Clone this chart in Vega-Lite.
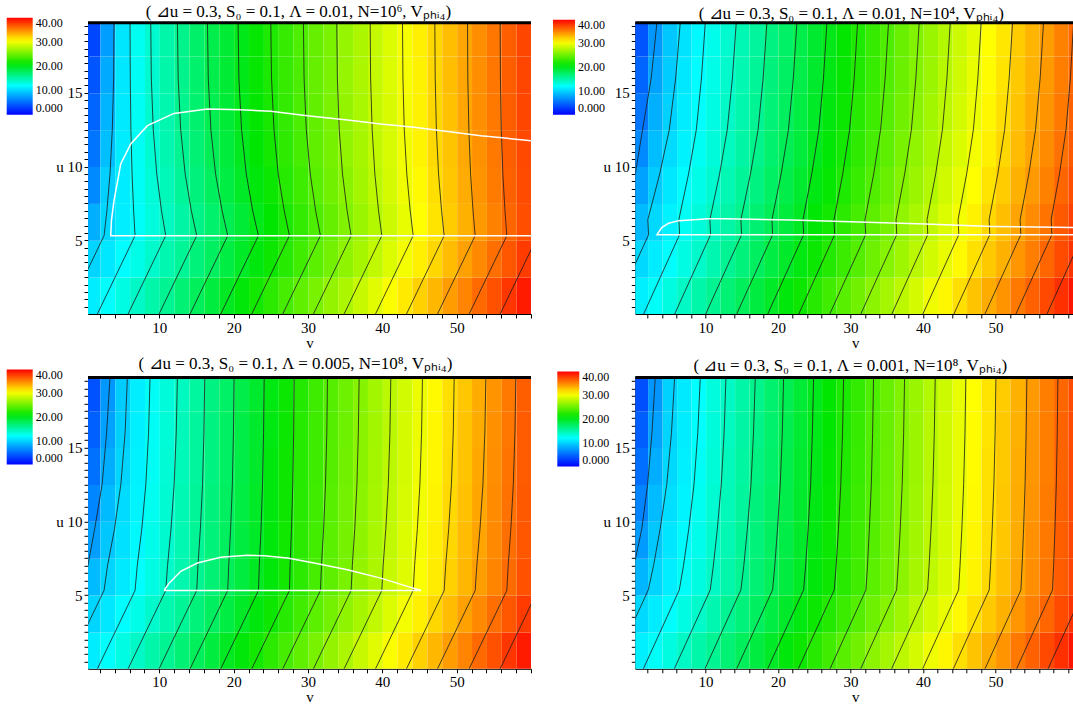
{
"$schema":"https://vega.github.io/schema/vega-lite/v6.json",
"padding":{"left":6,"top":3,"right":0,"bottom":0},
"config":{"view":{"stroke":null},"font":"Liberation Serif",
"axis":{"labelFont":"Liberation Serif","labelFontSize":15,"titleFont":"Liberation Serif","titleFontSize":15,"titleFontWeight":"normal","domainColor":"black","tickColor":"black","labelColor":"black","titleColor":"black","grid":false,"labelOverlap":false,"labelBound":false,"labelFlush":false},
"title":{"font":"Liberation Serif","fontSize":17,"fontWeight":"normal","offset":0,"dy":7.7,"anchor":"middle","color":"black"},
"legend":{"labelFont":"Liberation Serif","labelFontSize":12,"labelColor":"black"}},
"datasets":{
"aCells":[
{"v":0,"u":0,"r":11.1},{"v":2,"u":0,"r":12.1},{"v":4,"u":0,"r":13.0},{"v":6,"u":0,"r":14.0},{"v":8,"u":0,"r":15.0},{"v":10,"u":0,"r":15.9},{"v":12,"u":0,"r":16.9},{"v":14,"u":0,"r":17.8},{"v":16,"u":0,"r":18.8},{"v":18,"u":0,"r":19.8},{"v":20,"u":0,"r":20.7},{"v":22,"u":0,"r":21.7},{"v":24,"u":0,"r":22.6},{"v":26,"u":0,"r":23.6},{"v":28,"u":0,"r":24.6},{"v":30,"u":0,"r":25.5},{"v":32,"u":0,"r":26.5},{"v":34,"u":0,"r":27.4},{"v":36,"u":0,"r":28.4},{"v":38,"u":0,"r":29.4},{"v":40,"u":0,"r":30.3},{"v":42,"u":0,"r":31.3},{"v":44,"u":0,"r":32.2},{"v":46,"u":0,"r":33.2},{"v":48,"u":0,"r":34.2},{"v":50,"u":0,"r":35.1},{"v":52,"u":0,"r":36.1},{"v":54,"u":0,"r":37.0},{"v":56,"u":0,"r":38.0},{"v":58,"u":0,"r":39.0},
{"v":0,"u":2.5,"r":10.0},{"v":2,"u":2.5,"r":10.9},{"v":4,"u":2.5,"r":11.9},{"v":6,"u":2.5,"r":12.8},{"v":8,"u":2.5,"r":13.8},{"v":10,"u":2.5,"r":14.8},{"v":12,"u":2.5,"r":15.7},{"v":14,"u":2.5,"r":16.7},{"v":16,"u":2.5,"r":17.6},{"v":18,"u":2.5,"r":18.6},{"v":20,"u":2.5,"r":19.6},{"v":22,"u":2.5,"r":20.5},{"v":24,"u":2.5,"r":21.5},{"v":26,"u":2.5,"r":22.4},{"v":28,"u":2.5,"r":23.4},{"v":30,"u":2.5,"r":24.4},{"v":32,"u":2.5,"r":25.3},{"v":34,"u":2.5,"r":26.3},{"v":36,"u":2.5,"r":27.2},{"v":38,"u":2.5,"r":28.2},{"v":40,"u":2.5,"r":29.2},{"v":42,"u":2.5,"r":30.1},{"v":44,"u":2.5,"r":31.1},{"v":46,"u":2.5,"r":32.0},{"v":48,"u":2.5,"r":33.0},{"v":50,"u":2.5,"r":34.0},{"v":52,"u":2.5,"r":34.9},{"v":54,"u":2.5,"r":35.9},{"v":56,"u":2.5,"r":36.8},{"v":58,"u":2.5,"r":37.8},
{"v":0,"u":5,"r":8.3},{"v":2,"u":5,"r":10.1},{"v":4,"u":5,"r":11.2},{"v":6,"u":5,"r":12.2},{"v":8,"u":5,"r":13.2},{"v":10,"u":5,"r":14.2},{"v":12,"u":5,"r":15.2},{"v":14,"u":5,"r":16.2},{"v":16,"u":5,"r":17.2},{"v":18,"u":5,"r":18.1},{"v":20,"u":5,"r":19.1},{"v":22,"u":5,"r":20.1},{"v":24,"u":5,"r":21.0},{"v":26,"u":5,"r":22.0},{"v":28,"u":5,"r":22.9},{"v":30,"u":5,"r":23.9},{"v":32,"u":5,"r":24.8},{"v":34,"u":5,"r":25.8},{"v":36,"u":5,"r":26.7},{"v":38,"u":5,"r":27.7},{"v":40,"u":5,"r":28.6},{"v":42,"u":5,"r":29.6},{"v":44,"u":5,"r":30.5},{"v":46,"u":5,"r":31.5},{"v":48,"u":5,"r":32.4},{"v":50,"u":5,"r":33.4},{"v":52,"u":5,"r":34.3},{"v":54,"u":5,"r":35.2},{"v":56,"u":5,"r":36.2},{"v":58,"u":5,"r":37.1},
{"v":0,"u":7.5,"r":6.5},{"v":2,"u":7.5,"r":9.8},{"v":4,"u":7.5,"r":11.1},{"v":6,"u":7.5,"r":12.3},{"v":8,"u":7.5,"r":13.4},{"v":10,"u":7.5,"r":14.5},{"v":12,"u":7.5,"r":15.6},{"v":14,"u":7.5,"r":16.6},{"v":16,"u":7.5,"r":17.7},{"v":18,"u":7.5,"r":18.6},{"v":20,"u":7.5,"r":19.6},{"v":22,"u":7.5,"r":20.6},{"v":24,"u":7.5,"r":21.4},{"v":26,"u":7.5,"r":22.4},{"v":28,"u":7.5,"r":23.3},{"v":30,"u":7.5,"r":24.3},{"v":32,"u":7.5,"r":25.2},{"v":34,"u":7.5,"r":26.1},{"v":36,"u":7.5,"r":27.0},{"v":38,"u":7.5,"r":28.0},{"v":40,"u":7.5,"r":28.9},{"v":42,"u":7.5,"r":29.9},{"v":44,"u":7.5,"r":30.7},{"v":46,"u":7.5,"r":31.7},{"v":48,"u":7.5,"r":32.6},{"v":50,"u":7.5,"r":33.6},{"v":52,"u":7.5,"r":34.5},{"v":54,"u":7.5,"r":35.4},{"v":56,"u":7.5,"r":36.4},{"v":58,"u":7.5,"r":37.2},
{"v":0,"u":10,"r":5.5},{"v":2,"u":10,"r":9.0},{"v":4,"u":10,"r":11.1},{"v":6,"u":10,"r":12.4},{"v":8,"u":10,"r":13.6},{"v":10,"u":10,"r":14.8},{"v":12,"u":10,"r":15.9},{"v":14,"u":10,"r":16.9},{"v":16,"u":10,"r":18.0},{"v":18,"u":10,"r":18.9},{"v":20,"u":10,"r":19.9},{"v":22,"u":10,"r":20.9},{"v":24,"u":10,"r":21.8},{"v":26,"u":10,"r":22.7},{"v":28,"u":10,"r":23.6},{"v":30,"u":10,"r":24.6},{"v":32,"u":10,"r":25.4},{"v":34,"u":10,"r":26.4},{"v":36,"u":10,"r":27.2},{"v":38,"u":10,"r":28.2},{"v":40,"u":10,"r":29.0},{"v":42,"u":10,"r":30.0},{"v":44,"u":10,"r":30.9},{"v":46,"u":10,"r":31.9},{"v":48,"u":10,"r":32.7},{"v":50,"u":10,"r":33.7},{"v":52,"u":10,"r":34.6},{"v":54,"u":10,"r":35.5},{"v":56,"u":10,"r":36.5},{"v":58,"u":10,"r":37.3},
{"v":0,"u":12.5,"r":4.7},{"v":2,"u":12.5,"r":8.5},{"v":4,"u":12.5,"r":11.0},{"v":6,"u":12.5,"r":12.4},{"v":8,"u":12.5,"r":13.7},{"v":10,"u":12.5,"r":14.9},{"v":12,"u":12.5,"r":16.0},{"v":14,"u":12.5,"r":17.1},{"v":16,"u":12.5,"r":18.2},{"v":18,"u":12.5,"r":19.1},{"v":20,"u":12.5,"r":20.1},{"v":22,"u":12.5,"r":21.1},{"v":24,"u":12.5,"r":21.9},{"v":26,"u":12.5,"r":22.9},{"v":28,"u":12.5,"r":23.8},{"v":30,"u":12.5,"r":24.7},{"v":32,"u":12.5,"r":25.6},{"v":34,"u":12.5,"r":26.5},{"v":36,"u":12.5,"r":27.3},{"v":38,"u":12.5,"r":28.3},{"v":40,"u":12.5,"r":29.1},{"v":42,"u":12.5,"r":30.1},{"v":44,"u":12.5,"r":31.0},{"v":46,"u":12.5,"r":32.0},{"v":48,"u":12.5,"r":32.8},{"v":50,"u":12.5,"r":33.8},{"v":52,"u":12.5,"r":34.7},{"v":54,"u":12.5,"r":35.5},{"v":56,"u":12.5,"r":36.5},{"v":58,"u":12.5,"r":37.4},
{"v":0,"u":15,"r":4.0},{"v":2,"u":15,"r":8.0},{"v":4,"u":15,"r":10.9},{"v":6,"u":15,"r":12.4},{"v":8,"u":15,"r":13.7},{"v":10,"u":15,"r":15.0},{"v":12,"u":15,"r":16.1},{"v":14,"u":15,"r":17.2},{"v":16,"u":15,"r":18.3},{"v":18,"u":15,"r":19.2},{"v":20,"u":15,"r":20.2},{"v":22,"u":15,"r":21.2},{"v":24,"u":15,"r":22.0},{"v":26,"u":15,"r":23.0},{"v":28,"u":15,"r":23.8},{"v":30,"u":15,"r":24.8},{"v":32,"u":15,"r":25.6},{"v":34,"u":15,"r":26.6},{"v":36,"u":15,"r":27.4},{"v":38,"u":15,"r":28.3},{"v":40,"u":15,"r":29.2},{"v":42,"u":15,"r":30.2},{"v":44,"u":15,"r":31.0},{"v":46,"u":15,"r":32.0},{"v":48,"u":15,"r":32.9},{"v":50,"u":15,"r":33.8},{"v":52,"u":15,"r":34.7},{"v":54,"u":15,"r":35.6},{"v":56,"u":15,"r":36.5},{"v":58,"u":15,"r":37.4},
{"v":0,"u":17.5,"r":3.3},{"v":2,"u":17.5,"r":7.5},{"v":4,"u":17.5,"r":10.8},{"v":6,"u":17.5,"r":12.5},{"v":8,"u":17.5,"r":13.7},{"v":10,"u":17.5,"r":15.0},{"v":12,"u":17.5,"r":16.1},{"v":14,"u":17.5,"r":17.3},{"v":16,"u":17.5,"r":18.3},{"v":18,"u":17.5,"r":19.2},{"v":20,"u":17.5,"r":20.2},{"v":22,"u":17.5,"r":21.2},{"v":24,"u":17.5,"r":22.1},{"v":26,"u":17.5,"r":23.0},{"v":28,"u":17.5,"r":23.9},{"v":30,"u":17.5,"r":24.8},{"v":32,"u":17.5,"r":25.6},{"v":34,"u":17.5,"r":26.6},{"v":36,"u":17.5,"r":27.4},{"v":38,"u":17.5,"r":28.3},{"v":40,"u":17.5,"r":29.2},{"v":42,"u":17.5,"r":30.2},{"v":44,"u":17.5,"r":31.1},{"v":46,"u":17.5,"r":32.0},{"v":48,"u":17.5,"r":32.9},{"v":50,"u":17.5,"r":33.8},{"v":52,"u":17.5,"r":34.7},{"v":54,"u":17.5,"r":35.6},{"v":56,"u":17.5,"r":36.5},{"v":58,"u":17.5,"r":37.4}
],
"aLines":[
{"k":0,"u":0,"v":-2.51},{"k":0,"u":5.31,"v":2.56},{"k":0,"u":7,"v":2.94},{"k":0,"u":9.5,"v":3.36},{"k":0,"u":12.5,"v":3.67},{"k":0,"u":16,"v":3.85},{"k":0,"u":19.8,"v":3.9},
{"k":1,"u":0,"v":1.66},{"k":1,"u":5.31,"v":6.73},{"k":1,"u":7,"v":6.54},{"k":1,"u":9.5,"v":6.33},{"k":1,"u":12.5,"v":6.17},{"k":1,"u":16,"v":6.09},{"k":1,"u":19.8,"v":6.06},
{"k":2,"u":0,"v":5.79},{"k":2,"u":5.31,"v":10.86},{"k":2,"u":7,"v":10.29},{"k":2,"u":9.5,"v":9.65},{"k":2,"u":12.5,"v":9.18},{"k":2,"u":16,"v":8.92},{"k":2,"u":19.8,"v":8.84},
{"k":3,"u":0,"v":9.96},{"k":3,"u":5.31,"v":15.03},{"k":3,"u":7,"v":14.3},{"k":3,"u":9.5,"v":13.47},{"k":3,"u":12.5,"v":12.87},{"k":3,"u":16,"v":12.53},{"k":3,"u":19.8,"v":12.43},
{"k":4,"u":0,"v":14.13},{"k":4,"u":5.31,"v":19.2},{"k":4,"u":7,"v":18.44},{"k":4,"u":9.5,"v":17.56},{"k":4,"u":12.5,"v":16.93},{"k":4,"u":16,"v":16.58},{"k":4,"u":19.8,"v":16.47},
{"k":5,"u":0,"v":18.26},{"k":5,"u":5.31,"v":23.33},{"k":5,"u":7,"v":22.56},{"k":5,"u":9.5,"v":21.69},{"k":5,"u":12.5,"v":21.06},{"k":5,"u":16,"v":20.7},{"k":5,"u":19.8,"v":20.59},
{"k":6,"u":0,"v":22.43},{"k":6,"u":5.31,"v":27.5},{"k":6,"u":7,"v":26.8},{"k":6,"u":9.5,"v":25.99},{"k":6,"u":12.5,"v":25.42},{"k":6,"u":16,"v":25.09},{"k":6,"u":19.8,"v":24.99},
{"k":7,"u":0,"v":26.6},{"k":7,"u":5.31,"v":31.67},{"k":7,"u":7,"v":31.03},{"k":7,"u":9.5,"v":30.3},{"k":7,"u":12.5,"v":29.77},{"k":7,"u":16,"v":29.47},{"k":7,"u":19.8,"v":29.38},
{"k":8,"u":0,"v":30.73},{"k":8,"u":5.31,"v":35.8},{"k":8,"u":7,"v":35.26},{"k":8,"u":9.5,"v":34.64},{"k":8,"u":12.5,"v":34.2},{"k":8,"u":16,"v":33.95},{"k":8,"u":19.8,"v":33.87},
{"k":9,"u":0,"v":34.86},{"k":9,"u":5.31,"v":39.93},{"k":9,"u":7,"v":39.49},{"k":9,"u":9.5,"v":38.99},{"k":9,"u":12.5,"v":38.63},{"k":9,"u":16,"v":38.42},{"k":9,"u":19.8,"v":38.36},
{"k":10,"u":0,"v":39.08},{"k":10,"u":5.31,"v":44.15},{"k":10,"u":7,"v":43.75},{"k":10,"u":9.5,"v":43.29},{"k":10,"u":12.5,"v":42.95},{"k":10,"u":16,"v":42.77},{"k":10,"u":19.8,"v":42.71},
{"k":11,"u":0,"v":43.25},{"k":11,"u":5.31,"v":48.32},{"k":11,"u":7,"v":47.97},{"k":11,"u":9.5,"v":47.56},{"k":11,"u":12.5,"v":47.27},{"k":11,"u":16,"v":47.11},{"k":11,"u":19.8,"v":47.06},
{"k":12,"u":0,"v":47.42},{"k":12,"u":5.31,"v":52.49},{"k":12,"u":7,"v":52.2},{"k":12,"u":9.5,"v":51.87},{"k":12,"u":12.5,"v":51.64},{"k":12,"u":16,"v":51.5},{"k":12,"u":19.8,"v":51.46},
{"k":13,"u":0,"v":51.68},{"k":13,"u":5.31,"v":56.75},{"k":13,"u":7,"v":56.5},{"k":13,"u":9.5,"v":56.21},{"k":13,"u":12.5,"v":56.0},{"k":13,"u":16,"v":55.89},{"k":13,"u":19.8,"v":55.85},
{"k":14,"u":0,"v":55.85},{"k":14,"u":5.31,"v":60.92},{"k":14,"u":7,"v":60.68},{"k":14,"u":9.5,"v":60.41},{"k":14,"u":12.5,"v":60.21},{"k":14,"u":16,"v":60.1},{"k":14,"u":19.8,"v":60.07}
],
"aWhite":[
{"o":0,"v":60,"u":5.31},{"o":1,"v":3.46,"u":5.31},{"o":2,"v":3.55,"u":6.33},{"o":3,"v":3.9,"u":7.68},{"o":4,"v":4.8,"u":10.17},{"o":5,"v":6.15,"u":11.53},{"o":6,"v":8.39,"u":12.77},{"o":7,"v":11.98,"u":13.6},{"o":8,"v":16.47,"u":13.9},{"o":9,"v":20.95,"u":13.85},{"o":10,"v":24.99,"u":13.74},{"o":11,"v":29.92,"u":13.45},{"o":12,"v":35.3,"u":13.15},{"o":13,"v":39.79,"u":12.88},{"o":14,"v":44.28,"u":12.66},{"o":15,"v":48.77,"u":12.38},{"o":16,"v":53.25,"u":12.09},{"o":17,"v":60.07,"u":11.75}
],
"bCells":[
{"v":0,"u":0,"r":11.3},{"v":2,"u":0,"r":12.2},{"v":4,"u":0,"r":13.1},{"v":6,"u":0,"r":14.1},{"v":8,"u":0,"r":15.0},{"v":10,"u":0,"r":15.9},{"v":12,"u":0,"r":16.9},{"v":14,"u":0,"r":17.8},{"v":16,"u":0,"r":18.7},{"v":18,"u":0,"r":19.6},{"v":20,"u":0,"r":20.6},{"v":22,"u":0,"r":21.5},{"v":24,"u":0,"r":22.4},{"v":26,"u":0,"r":23.4},{"v":28,"u":0,"r":24.3},{"v":30,"u":0,"r":25.2},{"v":32,"u":0,"r":26.2},{"v":34,"u":0,"r":27.1},{"v":36,"u":0,"r":28.0},{"v":38,"u":0,"r":28.9},{"v":40,"u":0,"r":29.9},{"v":42,"u":0,"r":30.8},{"v":44,"u":0,"r":31.7},{"v":46,"u":0,"r":32.7},{"v":48,"u":0,"r":33.6},{"v":50,"u":0,"r":34.5},{"v":52,"u":0,"r":35.5},{"v":54,"u":0,"r":36.4},{"v":56,"u":0,"r":37.3},{"v":58,"u":0,"r":38.2},{"v":60,"u":0,"r":39.2},
{"v":0,"u":2.5,"r":10.2},{"v":2,"u":2.5,"r":11.1},{"v":4,"u":2.5,"r":12.1},{"v":6,"u":2.5,"r":13.0},{"v":8,"u":2.5,"r":13.9},{"v":10,"u":2.5,"r":14.8},{"v":12,"u":2.5,"r":15.8},{"v":14,"u":2.5,"r":16.7},{"v":16,"u":2.5,"r":17.6},{"v":18,"u":2.5,"r":18.6},{"v":20,"u":2.5,"r":19.5},{"v":22,"u":2.5,"r":20.4},{"v":24,"u":2.5,"r":21.4},{"v":26,"u":2.5,"r":22.3},{"v":28,"u":2.5,"r":23.2},{"v":30,"u":2.5,"r":24.1},{"v":32,"u":2.5,"r":25.1},{"v":34,"u":2.5,"r":26.0},{"v":36,"u":2.5,"r":26.9},{"v":38,"u":2.5,"r":27.9},{"v":40,"u":2.5,"r":28.8},{"v":42,"u":2.5,"r":29.7},{"v":44,"u":2.5,"r":30.7},{"v":46,"u":2.5,"r":31.6},{"v":48,"u":2.5,"r":32.5},{"v":50,"u":2.5,"r":33.4},{"v":52,"u":2.5,"r":34.4},{"v":54,"u":2.5,"r":35.3},{"v":56,"u":2.5,"r":36.2},{"v":58,"u":2.5,"r":37.2},{"v":60,"u":2.5,"r":38.1},
{"v":0,"u":5,"r":8.8},{"v":2,"u":5,"r":10.2},{"v":4,"u":5,"r":11.4},{"v":6,"u":5,"r":12.4},{"v":8,"u":5,"r":13.3},{"v":10,"u":5,"r":14.2},{"v":12,"u":5,"r":15.2},{"v":14,"u":5,"r":16.1},{"v":16,"u":5,"r":17.0},{"v":18,"u":5,"r":18.0},{"v":20,"u":5,"r":18.9},{"v":22,"u":5,"r":19.8},{"v":24,"u":5,"r":20.8},{"v":26,"u":5,"r":21.7},{"v":28,"u":5,"r":22.6},{"v":30,"u":5,"r":23.6},{"v":32,"u":5,"r":24.5},{"v":34,"u":5,"r":25.4},{"v":36,"u":5,"r":26.4},{"v":38,"u":5,"r":27.3},{"v":40,"u":5,"r":28.2},{"v":42,"u":5,"r":29.2},{"v":44,"u":5,"r":30.1},{"v":46,"u":5,"r":31.0},{"v":48,"u":5,"r":32.0},{"v":50,"u":5,"r":32.9},{"v":52,"u":5,"r":33.9},{"v":54,"u":5,"r":34.8},{"v":56,"u":5,"r":35.7},{"v":58,"u":5,"r":36.7},{"v":60,"u":5,"r":37.6},
{"v":0,"u":7.5,"r":7.6},{"v":2,"u":7.5,"r":9.6},{"v":4,"u":7.5,"r":10.9},{"v":6,"u":7.5,"r":11.9},{"v":8,"u":7.5,"r":12.8},{"v":10,"u":7.5,"r":13.7},{"v":12,"u":7.5,"r":14.7},{"v":14,"u":7.5,"r":15.6},{"v":16,"u":7.5,"r":16.5},{"v":18,"u":7.5,"r":17.5},{"v":20,"u":7.5,"r":18.4},{"v":22,"u":7.5,"r":19.3},{"v":24,"u":7.5,"r":20.3},{"v":26,"u":7.5,"r":21.2},{"v":28,"u":7.5,"r":22.1},{"v":30,"u":7.5,"r":23.1},{"v":32,"u":7.5,"r":24.0},{"v":34,"u":7.5,"r":24.9},{"v":36,"u":7.5,"r":25.9},{"v":38,"u":7.5,"r":26.8},{"v":40,"u":7.5,"r":27.7},{"v":42,"u":7.5,"r":28.7},{"v":44,"u":7.5,"r":29.6},{"v":46,"u":7.5,"r":30.5},{"v":48,"u":7.5,"r":31.5},{"v":50,"u":7.5,"r":32.4},{"v":52,"u":7.5,"r":33.4},{"v":54,"u":7.5,"r":34.3},{"v":56,"u":7.5,"r":35.2},{"v":58,"u":7.5,"r":36.2},{"v":60,"u":7.5,"r":37.1},
{"v":0,"u":10,"r":6.5},{"v":2,"u":10,"r":8.9},{"v":4,"u":10,"r":10.3},{"v":6,"u":10,"r":11.4},{"v":8,"u":10,"r":12.4},{"v":10,"u":10,"r":13.3},{"v":12,"u":10,"r":14.3},{"v":14,"u":10,"r":15.2},{"v":16,"u":10,"r":16.1},{"v":18,"u":10,"r":17.1},{"v":20,"u":10,"r":18.0},{"v":22,"u":10,"r":18.9},{"v":24,"u":10,"r":19.9},{"v":26,"u":10,"r":20.8},{"v":28,"u":10,"r":21.7},{"v":30,"u":10,"r":22.7},{"v":32,"u":10,"r":23.6},{"v":34,"u":10,"r":24.5},{"v":36,"u":10,"r":25.5},{"v":38,"u":10,"r":26.4},{"v":40,"u":10,"r":27.3},{"v":42,"u":10,"r":28.3},{"v":44,"u":10,"r":29.2},{"v":46,"u":10,"r":30.1},{"v":48,"u":10,"r":31.1},{"v":50,"u":10,"r":32.0},{"v":52,"u":10,"r":33.0},{"v":54,"u":10,"r":33.9},{"v":56,"u":10,"r":34.8},{"v":58,"u":10,"r":35.8},{"v":60,"u":10,"r":36.7},
{"v":0,"u":12.5,"r":5.5},{"v":2,"u":12.5,"r":8.3},{"v":4,"u":12.5,"r":9.9},{"v":6,"u":12.5,"r":11.1},{"v":8,"u":12.5,"r":12.1},{"v":10,"u":12.5,"r":13.0},{"v":12,"u":12.5,"r":14.0},{"v":14,"u":12.5,"r":14.9},{"v":16,"u":12.5,"r":15.8},{"v":18,"u":12.5,"r":16.8},{"v":20,"u":12.5,"r":17.7},{"v":22,"u":12.5,"r":18.6},{"v":24,"u":12.5,"r":19.6},{"v":26,"u":12.5,"r":20.5},{"v":28,"u":12.5,"r":21.4},{"v":30,"u":12.5,"r":22.4},{"v":32,"u":12.5,"r":23.3},{"v":34,"u":12.5,"r":24.2},{"v":36,"u":12.5,"r":25.2},{"v":38,"u":12.5,"r":26.1},{"v":40,"u":12.5,"r":27.0},{"v":42,"u":12.5,"r":28.0},{"v":44,"u":12.5,"r":28.9},{"v":46,"u":12.5,"r":29.8},{"v":48,"u":12.5,"r":30.8},{"v":50,"u":12.5,"r":31.7},{"v":52,"u":12.5,"r":32.7},{"v":54,"u":12.5,"r":33.6},{"v":56,"u":12.5,"r":34.5},{"v":58,"u":12.5,"r":35.5},{"v":60,"u":12.5,"r":36.4},
{"v":0,"u":15,"r":4.7},{"v":2,"u":15,"r":7.7},{"v":4,"u":15,"r":9.6},{"v":6,"u":15,"r":10.9},{"v":8,"u":15,"r":11.9},{"v":10,"u":15,"r":12.8},{"v":12,"u":15,"r":13.8},{"v":14,"u":15,"r":14.7},{"v":16,"u":15,"r":15.6},{"v":18,"u":15,"r":16.6},{"v":20,"u":15,"r":17.5},{"v":22,"u":15,"r":18.4},{"v":24,"u":15,"r":19.4},{"v":26,"u":15,"r":20.3},{"v":28,"u":15,"r":21.2},{"v":30,"u":15,"r":22.2},{"v":32,"u":15,"r":23.1},{"v":34,"u":15,"r":24.0},{"v":36,"u":15,"r":25.0},{"v":38,"u":15,"r":25.9},{"v":40,"u":15,"r":26.8},{"v":42,"u":15,"r":27.8},{"v":44,"u":15,"r":28.7},{"v":46,"u":15,"r":29.6},{"v":48,"u":15,"r":30.6},{"v":50,"u":15,"r":31.5},{"v":52,"u":15,"r":32.5},{"v":54,"u":15,"r":33.4},{"v":56,"u":15,"r":34.3},{"v":58,"u":15,"r":35.3},{"v":60,"u":15,"r":36.2},
{"v":0,"u":17.5,"r":4.0},{"v":2,"u":17.5,"r":7.1},{"v":4,"u":17.5,"r":9.4},{"v":6,"u":17.5,"r":10.7},{"v":8,"u":17.5,"r":11.7},{"v":10,"u":17.5,"r":12.7},{"v":12,"u":17.5,"r":13.7},{"v":14,"u":17.5,"r":14.6},{"v":16,"u":17.5,"r":15.5},{"v":18,"u":17.5,"r":16.5},{"v":20,"u":17.5,"r":17.4},{"v":22,"u":17.5,"r":18.3},{"v":24,"u":17.5,"r":19.3},{"v":26,"u":17.5,"r":20.2},{"v":28,"u":17.5,"r":21.1},{"v":30,"u":17.5,"r":22.1},{"v":32,"u":17.5,"r":23.0},{"v":34,"u":17.5,"r":23.9},{"v":36,"u":17.5,"r":24.9},{"v":38,"u":17.5,"r":25.8},{"v":40,"u":17.5,"r":26.7},{"v":42,"u":17.5,"r":27.7},{"v":44,"u":17.5,"r":28.6},{"v":46,"u":17.5,"r":29.5},{"v":48,"u":17.5,"r":30.5},{"v":50,"u":17.5,"r":31.4},{"v":52,"u":17.5,"r":32.4},{"v":54,"u":17.5,"r":33.3},{"v":56,"u":17.5,"r":34.2},{"v":58,"u":17.5,"r":35.2},{"v":60,"u":17.5,"r":36.1}
],
"bLines":[
{"k":-1,"u":9.5,"v":0.3},{"k":-1,"u":12.5,"v":1.3},{"k":-1,"u":16,"v":2.5},{"k":-1,"u":19.8,"v":3.29},
{"k":0,"u":0,"v":-2.83},{"k":0,"u":5.38,"v":2.13},{"k":0,"u":6.4,"v":2.03},{"k":0,"u":9.5,"v":3.67},{"k":0,"u":12.5,"v":4.99},{"k":0,"u":16,"v":5.87},{"k":0,"u":19.8,"v":6.51},
{"k":1,"u":0,"v":1.45},{"k":1,"u":5.38,"v":6.41},{"k":1,"u":6.4,"v":6.31},{"k":1,"u":9.5,"v":7.65},{"k":1,"u":12.5,"v":8.72},{"k":1,"u":16,"v":9.43},{"k":1,"u":19.8,"v":9.96},
{"k":2,"u":0,"v":5.73},{"k":2,"u":5.38,"v":10.69},{"k":2,"u":6.4,"v":10.59},{"k":2,"u":9.5,"v":11.93},{"k":2,"u":12.5,"v":12.99},{"k":2,"u":16,"v":13.7},{"k":2,"u":19.8,"v":14.23},
{"k":3,"u":0,"v":10.01},{"k":3,"u":5.38,"v":14.97},{"k":3,"u":6.4,"v":14.87},{"k":3,"u":9.5,"v":16.19},{"k":3,"u":12.5,"v":17.24},{"k":3,"u":16,"v":17.94},{"k":3,"u":19.8,"v":18.46},
{"k":4,"u":0,"v":14.29},{"k":4,"u":5.38,"v":19.25},{"k":4,"u":6.4,"v":19.15},{"k":4,"u":9.5,"v":20.42},{"k":4,"u":12.5,"v":21.43},{"k":4,"u":16,"v":22.1},{"k":4,"u":19.8,"v":22.6},
{"k":5,"u":0,"v":18.57},{"k":5,"u":5.38,"v":23.53},{"k":5,"u":6.4,"v":23.43},{"k":5,"u":9.5,"v":24.65},{"k":5,"u":12.5,"v":25.62},{"k":5,"u":16,"v":26.26},{"k":5,"u":19.8,"v":26.74},
{"k":6,"u":0,"v":22.85},{"k":6,"u":5.38,"v":27.81},{"k":6,"u":6.4,"v":27.71},{"k":6,"u":9.5,"v":28.92},{"k":6,"u":12.5,"v":29.86},{"k":6,"u":16,"v":30.5},{"k":6,"u":19.8,"v":30.97},
{"k":7,"u":0,"v":27.13},{"k":7,"u":5.38,"v":32.09},{"k":7,"u":6.4,"v":31.99},{"k":7,"u":9.5,"v":33.19},{"k":7,"u":12.5,"v":34.14},{"k":7,"u":16,"v":34.77},{"k":7,"u":19.8,"v":35.24},
{"k":8,"u":0,"v":31.41},{"k":8,"u":5.38,"v":36.37},{"k":8,"u":6.4,"v":36.27},{"k":8,"u":9.5,"v":37.46},{"k":8,"u":12.5,"v":38.39},{"k":8,"u":16,"v":39.01},{"k":8,"u":19.8,"v":39.47},
{"k":9,"u":0,"v":35.69},{"k":9,"u":5.38,"v":40.65},{"k":9,"u":6.4,"v":40.55},{"k":9,"u":9.5,"v":41.74},{"k":9,"u":12.5,"v":42.67},{"k":9,"u":16,"v":43.29},{"k":9,"u":19.8,"v":43.75},
{"k":10,"u":0,"v":39.97},{"k":10,"u":5.38,"v":44.93},{"k":10,"u":6.4,"v":44.83},{"k":10,"u":9.5,"v":46.01},{"k":10,"u":12.5,"v":46.94},{"k":10,"u":16,"v":47.56},{"k":10,"u":19.8,"v":48.02},
{"k":11,"u":0,"v":44.25},{"k":11,"u":5.38,"v":49.21},{"k":11,"u":6.4,"v":49.11},{"k":11,"u":9.5,"v":50.31},{"k":11,"u":12.5,"v":51.25},{"k":11,"u":16,"v":51.88},{"k":11,"u":19.8,"v":52.35},
{"k":12,"u":0,"v":48.53},{"k":12,"u":5.38,"v":53.49},{"k":12,"u":6.4,"v":53.39},{"k":12,"u":9.5,"v":54.59},{"k":12,"u":12.5,"v":55.52},{"k":12,"u":16,"v":56.15},{"k":12,"u":19.8,"v":56.62},
{"k":13,"u":0,"v":52.81},{"k":13,"u":5.38,"v":57.77},{"k":13,"u":6.4,"v":57.67},{"k":13,"u":9.5,"v":58.82},{"k":13,"u":12.5,"v":59.72},{"k":13,"u":16,"v":60.32},{"k":13,"u":19.8,"v":60.77},
{"k":14,"u":0,"v":57.09},{"k":14,"u":5.38,"v":62.05}
],
"bWhite":[
{"o":0,"v":61,"u":5.38},{"o":1,"v":3.29,"u":5.38},{"o":2,"v":3.98,"u":5.88},{"o":3,"v":4.9,"u":6.15},{"o":4,"v":6.28,"u":6.33},{"o":5,"v":10.41,"u":6.46},{"o":6,"v":12.71,"u":6.46},{"o":7,"v":21.9,"u":6.37},{"o":8,"v":31.1,"u":6.24},{"o":9,"v":40.3,"u":6.1},{"o":10,"v":49.5,"u":5.94},{"o":11,"v":61,"u":5.86}
],
"cCells":[
{"v":0,"u":0,"r":11.1},{"v":2,"u":0,"r":12.1},{"v":4,"u":0,"r":13.0},{"v":6,"u":0,"r":14.0},{"v":8,"u":0,"r":15.0},{"v":10,"u":0,"r":15.9},{"v":12,"u":0,"r":16.9},{"v":14,"u":0,"r":17.8},{"v":16,"u":0,"r":18.8},{"v":18,"u":0,"r":19.8},{"v":20,"u":0,"r":20.7},{"v":22,"u":0,"r":21.7},{"v":24,"u":0,"r":22.6},{"v":26,"u":0,"r":23.6},{"v":28,"u":0,"r":24.6},{"v":30,"u":0,"r":25.5},{"v":32,"u":0,"r":26.5},{"v":34,"u":0,"r":27.4},{"v":36,"u":0,"r":28.4},{"v":38,"u":0,"r":29.4},{"v":40,"u":0,"r":30.3},{"v":42,"u":0,"r":31.3},{"v":44,"u":0,"r":32.2},{"v":46,"u":0,"r":33.2},{"v":48,"u":0,"r":34.2},{"v":50,"u":0,"r":35.1},{"v":52,"u":0,"r":36.1},{"v":54,"u":0,"r":37.0},{"v":56,"u":0,"r":38.0},{"v":58,"u":0,"r":39.0},
{"v":0,"u":2.5,"r":10.0},{"v":2,"u":2.5,"r":10.9},{"v":4,"u":2.5,"r":11.9},{"v":6,"u":2.5,"r":12.8},{"v":8,"u":2.5,"r":13.8},{"v":10,"u":2.5,"r":14.8},{"v":12,"u":2.5,"r":15.7},{"v":14,"u":2.5,"r":16.7},{"v":16,"u":2.5,"r":17.6},{"v":18,"u":2.5,"r":18.6},{"v":20,"u":2.5,"r":19.6},{"v":22,"u":2.5,"r":20.5},{"v":24,"u":2.5,"r":21.5},{"v":26,"u":2.5,"r":22.4},{"v":28,"u":2.5,"r":23.4},{"v":30,"u":2.5,"r":24.4},{"v":32,"u":2.5,"r":25.3},{"v":34,"u":2.5,"r":26.3},{"v":36,"u":2.5,"r":27.2},{"v":38,"u":2.5,"r":28.2},{"v":40,"u":2.5,"r":29.2},{"v":42,"u":2.5,"r":30.1},{"v":44,"u":2.5,"r":31.1},{"v":46,"u":2.5,"r":32.0},{"v":48,"u":2.5,"r":33.0},{"v":50,"u":2.5,"r":34.0},{"v":52,"u":2.5,"r":34.9},{"v":54,"u":2.5,"r":35.9},{"v":56,"u":2.5,"r":36.8},{"v":58,"u":2.5,"r":37.8},
{"v":0,"u":5,"r":8.8},{"v":2,"u":5,"r":10.0},{"v":4,"u":5,"r":11.0},{"v":6,"u":5,"r":12.0},{"v":8,"u":5,"r":13.0},{"v":10,"u":5,"r":13.9},{"v":12,"u":5,"r":14.9},{"v":14,"u":5,"r":15.9},{"v":16,"u":5,"r":16.9},{"v":18,"u":5,"r":17.8},{"v":20,"u":5,"r":18.8},{"v":22,"u":5,"r":19.8},{"v":24,"u":5,"r":20.7},{"v":26,"u":5,"r":21.7},{"v":28,"u":5,"r":22.6},{"v":30,"u":5,"r":23.6},{"v":32,"u":5,"r":24.5},{"v":34,"u":5,"r":25.5},{"v":36,"u":5,"r":26.5},{"v":38,"u":5,"r":27.4},{"v":40,"u":5,"r":28.4},{"v":42,"u":5,"r":29.3},{"v":44,"u":5,"r":30.3},{"v":46,"u":5,"r":31.2},{"v":48,"u":5,"r":32.2},{"v":50,"u":5,"r":33.2},{"v":52,"u":5,"r":34.1},{"v":54,"u":5,"r":35.1},{"v":56,"u":5,"r":36.0},{"v":58,"u":5,"r":37.0},
{"v":0,"u":7.5,"r":7.5},{"v":2,"u":7.5,"r":9.4},{"v":4,"u":7.5,"r":10.6},{"v":6,"u":7.5,"r":11.7},{"v":8,"u":7.5,"r":12.7},{"v":10,"u":7.5,"r":13.7},{"v":12,"u":7.5,"r":14.7},{"v":14,"u":7.5,"r":15.7},{"v":16,"u":7.5,"r":16.7},{"v":18,"u":7.5,"r":17.7},{"v":20,"u":7.5,"r":18.7},{"v":22,"u":7.5,"r":19.6},{"v":24,"u":7.5,"r":20.6},{"v":26,"u":7.5,"r":21.6},{"v":28,"u":7.5,"r":22.6},{"v":30,"u":7.5,"r":23.5},{"v":32,"u":7.5,"r":24.4},{"v":34,"u":7.5,"r":25.4},{"v":36,"u":7.5,"r":26.3},{"v":38,"u":7.5,"r":27.3},{"v":40,"u":7.5,"r":28.2},{"v":42,"u":7.5,"r":29.2},{"v":44,"u":7.5,"r":30.1},{"v":46,"u":7.5,"r":31.1},{"v":48,"u":7.5,"r":32.0},{"v":50,"u":7.5,"r":33.0},{"v":52,"u":7.5,"r":33.9},{"v":54,"u":7.5,"r":34.9},{"v":56,"u":7.5,"r":35.9},{"v":58,"u":7.5,"r":36.8},
{"v":0,"u":10,"r":6.3},{"v":2,"u":10,"r":8.8},{"v":4,"u":10,"r":10.3},{"v":6,"u":10,"r":11.5},{"v":8,"u":10,"r":12.5},{"v":10,"u":10,"r":13.6},{"v":12,"u":10,"r":14.6},{"v":14,"u":10,"r":15.6},{"v":16,"u":10,"r":16.6},{"v":18,"u":10,"r":17.6},{"v":20,"u":10,"r":18.6},{"v":22,"u":10,"r":19.6},{"v":24,"u":10,"r":20.5},{"v":26,"u":10,"r":21.5},{"v":28,"u":10,"r":22.5},{"v":30,"u":10,"r":23.4},{"v":32,"u":10,"r":24.3},{"v":34,"u":10,"r":25.3},{"v":36,"u":10,"r":26.2},{"v":38,"u":10,"r":27.2},{"v":40,"u":10,"r":28.1},{"v":42,"u":10,"r":29.0},{"v":44,"u":10,"r":30.0},{"v":46,"u":10,"r":30.9},{"v":48,"u":10,"r":31.9},{"v":50,"u":10,"r":32.8},{"v":52,"u":10,"r":33.8},{"v":54,"u":10,"r":34.8},{"v":56,"u":10,"r":35.8},{"v":58,"u":10,"r":36.7},
{"v":0,"u":12.5,"r":5.3},{"v":2,"u":12.5,"r":8.2},{"v":4,"u":12.5,"r":10.0},{"v":6,"u":12.5,"r":11.4},{"v":8,"u":12.5,"r":12.4},{"v":10,"u":12.5,"r":13.5},{"v":12,"u":12.5,"r":14.5},{"v":14,"u":12.5,"r":15.5},{"v":16,"u":12.5,"r":16.5},{"v":18,"u":12.5,"r":17.5},{"v":20,"u":12.5,"r":18.5},{"v":22,"u":12.5,"r":19.5},{"v":24,"u":12.5,"r":20.5},{"v":26,"u":12.5,"r":21.5},{"v":28,"u":12.5,"r":22.4},{"v":30,"u":12.5,"r":23.3},{"v":32,"u":12.5,"r":24.2},{"v":34,"u":12.5,"r":25.2},{"v":36,"u":12.5,"r":26.1},{"v":38,"u":12.5,"r":27.1},{"v":40,"u":12.5,"r":28.0},{"v":42,"u":12.5,"r":28.9},{"v":44,"u":12.5,"r":29.9},{"v":46,"u":12.5,"r":30.8},{"v":48,"u":12.5,"r":31.8},{"v":50,"u":12.5,"r":32.7},{"v":52,"u":12.5,"r":33.7},{"v":54,"u":12.5,"r":34.7},{"v":56,"u":12.5,"r":35.7},{"v":58,"u":12.5,"r":36.6},
{"v":0,"u":15,"r":4.5},{"v":2,"u":15,"r":7.6},{"v":4,"u":15,"r":9.8},{"v":6,"u":15,"r":11.3},{"v":8,"u":15,"r":12.3},{"v":10,"u":15,"r":13.4},{"v":12,"u":15,"r":14.4},{"v":14,"u":15,"r":15.5},{"v":16,"u":15,"r":16.5},{"v":18,"u":15,"r":17.5},{"v":20,"u":15,"r":18.5},{"v":22,"u":15,"r":19.4},{"v":24,"u":15,"r":20.4},{"v":26,"u":15,"r":21.4},{"v":28,"u":15,"r":22.4},{"v":30,"u":15,"r":23.3},{"v":32,"u":15,"r":24.2},{"v":34,"u":15,"r":25.1},{"v":36,"u":15,"r":26.1},{"v":38,"u":15,"r":27.0},{"v":40,"u":15,"r":27.9},{"v":42,"u":15,"r":28.9},{"v":44,"u":15,"r":29.8},{"v":46,"u":15,"r":30.8},{"v":48,"u":15,"r":31.7},{"v":50,"u":15,"r":32.7},{"v":52,"u":15,"r":33.6},{"v":54,"u":15,"r":34.6},{"v":56,"u":15,"r":35.6},{"v":58,"u":15,"r":36.6},
{"v":0,"u":17.5,"r":3.8},{"v":2,"u":17.5,"r":7.1},{"v":4,"u":17.5,"r":9.6},{"v":6,"u":17.5,"r":11.2},{"v":8,"u":17.5,"r":12.3},{"v":10,"u":17.5,"r":13.3},{"v":12,"u":17.5,"r":14.3},{"v":14,"u":17.5,"r":15.4},{"v":16,"u":17.5,"r":16.4},{"v":18,"u":17.5,"r":17.4},{"v":20,"u":17.5,"r":18.4},{"v":22,"u":17.5,"r":19.4},{"v":24,"u":17.5,"r":20.4},{"v":26,"u":17.5,"r":21.4},{"v":28,"u":17.5,"r":22.3},{"v":30,"u":17.5,"r":23.3},{"v":32,"u":17.5,"r":24.2},{"v":34,"u":17.5,"r":25.1},{"v":36,"u":17.5,"r":26.0},{"v":38,"u":17.5,"r":27.0},{"v":40,"u":17.5,"r":27.9},{"v":42,"u":17.5,"r":28.8},{"v":44,"u":17.5,"r":29.8},{"v":46,"u":17.5,"r":30.7},{"v":48,"u":17.5,"r":31.7},{"v":50,"u":17.5,"r":32.6},{"v":52,"u":17.5,"r":33.6},{"v":54,"u":17.5,"r":34.5},{"v":56,"u":17.5,"r":35.5},{"v":58,"u":17.5,"r":36.5}
],
"cLines":[
{"k":-1,"u":6.5,"v":0.2},{"k":-1,"u":9.5,"v":1.3},{"k":-1,"u":12.5,"v":2.3},{"k":-1,"u":16,"v":2.9},{"k":-1,"u":19.8,"v":3.37},
{"k":0,"u":0,"v":-2.51},{"k":0,"u":5.31,"v":2.56},{"k":0,"u":7,"v":3.03},{"k":0,"u":9.5,"v":3.97},{"k":0,"u":12.5,"v":4.82},{"k":0,"u":16,"v":5.39},{"k":0,"u":19.8,"v":5.7},
{"k":1,"u":0,"v":1.66},{"k":1,"u":5.31,"v":6.73},{"k":1,"u":7,"v":7.03},{"k":1,"u":9.5,"v":7.64},{"k":1,"u":12.5,"v":8.18},{"k":1,"u":16,"v":8.55},{"k":1,"u":19.8,"v":8.75},
{"k":2,"u":0,"v":5.79},{"k":2,"u":5.31,"v":10.86},{"k":2,"u":7,"v":11.1},{"k":2,"u":9.5,"v":11.57},{"k":2,"u":12.5,"v":11.99},{"k":2,"u":16,"v":12.27},{"k":2,"u":19.8,"v":12.43},
{"k":3,"u":0,"v":9.96},{"k":3,"u":5.31,"v":15.03},{"k":3,"u":7,"v":15.19},{"k":3,"u":9.5,"v":15.52},{"k":3,"u":12.5,"v":15.81},{"k":3,"u":16,"v":16.0},{"k":3,"u":19.8,"v":16.11},
{"k":4,"u":0,"v":14.13},{"k":4,"u":5.31,"v":19.2},{"k":4,"u":7,"v":19.33},{"k":4,"u":9.5,"v":19.59},{"k":4,"u":12.5,"v":19.82},{"k":4,"u":16,"v":19.97},{"k":4,"u":19.8,"v":20.06},
{"k":5,"u":0,"v":18.26},{"k":5,"u":5.31,"v":23.33},{"k":5,"u":7,"v":23.45},{"k":5,"u":9.5,"v":23.68},{"k":5,"u":12.5,"v":23.88},{"k":5,"u":16,"v":24.02},{"k":5,"u":19.8,"v":24.1},
{"k":6,"u":0,"v":22.43},{"k":6,"u":5.31,"v":27.5},{"k":6,"u":7,"v":27.59},{"k":6,"u":9.5,"v":27.78},{"k":6,"u":12.5,"v":27.95},{"k":6,"u":16,"v":28.07},{"k":6,"u":19.8,"v":28.13},
{"k":7,"u":0,"v":26.6},{"k":7,"u":5.31,"v":31.67},{"k":7,"u":7,"v":31.81},{"k":7,"u":9.5,"v":32.1},{"k":7,"u":12.5,"v":32.35},{"k":7,"u":16,"v":32.53},{"k":7,"u":19.8,"v":32.62},
{"k":8,"u":0,"v":30.73},{"k":8,"u":5.31,"v":35.8},{"k":8,"u":7,"v":35.96},{"k":8,"u":9.5,"v":36.29},{"k":8,"u":12.5,"v":36.58},{"k":8,"u":16,"v":36.77},{"k":8,"u":19.8,"v":36.88},
{"k":9,"u":0,"v":34.86},{"k":9,"u":5.31,"v":39.93},{"k":9,"u":7,"v":40.11},{"k":9,"u":9.5,"v":40.47},{"k":9,"u":12.5,"v":40.8},{"k":9,"u":16,"v":41.02},{"k":9,"u":19.8,"v":41.14},
{"k":10,"u":0,"v":39.08},{"k":10,"u":5.31,"v":44.15},{"k":10,"u":7,"v":44.34},{"k":10,"u":9.5,"v":44.71},{"k":10,"u":12.5,"v":45.05},{"k":10,"u":16,"v":45.28},{"k":10,"u":19.8,"v":45.4},
{"k":11,"u":0,"v":43.25},{"k":11,"u":5.31,"v":48.32},{"k":11,"u":7,"v":48.52},{"k":11,"u":9.5,"v":48.93},{"k":11,"u":12.5,"v":49.29},{"k":11,"u":16,"v":49.54},{"k":11,"u":19.8,"v":49.67},
{"k":12,"u":0,"v":47.42},{"k":12,"u":5.31,"v":52.49},{"k":12,"u":7,"v":52.71},{"k":12,"u":9.5,"v":53.14},{"k":12,"u":12.5,"v":53.53},{"k":12,"u":16,"v":53.79},{"k":12,"u":19.8,"v":53.93},
{"k":13,"u":0,"v":51.68},{"k":13,"u":5.31,"v":56.75},{"k":13,"u":7,"v":56.93},{"k":13,"u":9.5,"v":57.29},{"k":13,"u":12.5,"v":57.62},{"k":13,"u":16,"v":57.84},{"k":13,"u":19.8,"v":57.96},
{"k":14,"u":0,"v":55.85},{"k":14,"u":5.31,"v":60.92},{"k":14,"u":7,"v":61.1},{"k":14,"u":19.8,"v":62.12}
],
"cWhite":[
{"o":0,"v":10.64,"u":5.31},{"o":1,"v":45.2,"u":5.31},{"o":2,"v":43.38,"u":5.59},{"o":3,"v":39.79,"u":6.15},{"o":4,"v":35.3,"u":6.72},{"o":5,"v":30.82,"u":7.17},{"o":6,"v":27.23,"u":7.51},{"o":7,"v":24.09,"u":7.67},{"o":8,"v":21.85,"u":7.7},{"o":9,"v":18.26,"u":7.56},{"o":10,"v":15.12,"u":7.17},{"o":11,"v":12.88,"u":6.61},{"o":12,"v":11.31,"u":5.81},{"o":13,"v":10.64,"u":5.31}
],
"dCells":[
{"v":0,"u":0,"r":11.3},{"v":2,"u":0,"r":12.2},{"v":4,"u":0,"r":13.1},{"v":6,"u":0,"r":14.1},{"v":8,"u":0,"r":15.0},{"v":10,"u":0,"r":15.9},{"v":12,"u":0,"r":16.9},{"v":14,"u":0,"r":17.8},{"v":16,"u":0,"r":18.7},{"v":18,"u":0,"r":19.6},{"v":20,"u":0,"r":20.6},{"v":22,"u":0,"r":21.5},{"v":24,"u":0,"r":22.4},{"v":26,"u":0,"r":23.4},{"v":28,"u":0,"r":24.3},{"v":30,"u":0,"r":25.2},{"v":32,"u":0,"r":26.2},{"v":34,"u":0,"r":27.1},{"v":36,"u":0,"r":28.0},{"v":38,"u":0,"r":28.9},{"v":40,"u":0,"r":29.9},{"v":42,"u":0,"r":30.8},{"v":44,"u":0,"r":31.7},{"v":46,"u":0,"r":32.7},{"v":48,"u":0,"r":33.6},{"v":50,"u":0,"r":34.5},{"v":52,"u":0,"r":35.5},{"v":54,"u":0,"r":36.4},{"v":56,"u":0,"r":37.3},{"v":58,"u":0,"r":38.2},{"v":60,"u":0,"r":39.2},
{"v":0,"u":2.5,"r":10.2},{"v":2,"u":2.5,"r":11.1},{"v":4,"u":2.5,"r":12.1},{"v":6,"u":2.5,"r":13.0},{"v":8,"u":2.5,"r":13.9},{"v":10,"u":2.5,"r":14.8},{"v":12,"u":2.5,"r":15.8},{"v":14,"u":2.5,"r":16.7},{"v":16,"u":2.5,"r":17.6},{"v":18,"u":2.5,"r":18.6},{"v":20,"u":2.5,"r":19.5},{"v":22,"u":2.5,"r":20.4},{"v":24,"u":2.5,"r":21.4},{"v":26,"u":2.5,"r":22.3},{"v":28,"u":2.5,"r":23.2},{"v":30,"u":2.5,"r":24.1},{"v":32,"u":2.5,"r":25.1},{"v":34,"u":2.5,"r":26.0},{"v":36,"u":2.5,"r":26.9},{"v":38,"u":2.5,"r":27.9},{"v":40,"u":2.5,"r":28.8},{"v":42,"u":2.5,"r":29.7},{"v":44,"u":2.5,"r":30.7},{"v":46,"u":2.5,"r":31.6},{"v":48,"u":2.5,"r":32.5},{"v":50,"u":2.5,"r":33.4},{"v":52,"u":2.5,"r":34.4},{"v":54,"u":2.5,"r":35.3},{"v":56,"u":2.5,"r":36.2},{"v":58,"u":2.5,"r":37.2},{"v":60,"u":2.5,"r":38.1},
{"v":0,"u":5,"r":8.6},{"v":2,"u":5,"r":10.0},{"v":4,"u":5,"r":11.2},{"v":6,"u":5,"r":12.2},{"v":8,"u":5,"r":13.1},{"v":10,"u":5,"r":14.1},{"v":12,"u":5,"r":15.0},{"v":14,"u":5,"r":15.9},{"v":16,"u":5,"r":16.9},{"v":18,"u":5,"r":17.8},{"v":20,"u":5,"r":18.7},{"v":22,"u":5,"r":19.7},{"v":24,"u":5,"r":20.6},{"v":26,"u":5,"r":21.5},{"v":28,"u":5,"r":22.5},{"v":30,"u":5,"r":23.4},{"v":32,"u":5,"r":24.4},{"v":34,"u":5,"r":25.3},{"v":36,"u":5,"r":26.2},{"v":38,"u":5,"r":27.2},{"v":40,"u":5,"r":28.1},{"v":42,"u":5,"r":29.1},{"v":44,"u":5,"r":30.0},{"v":46,"u":5,"r":30.9},{"v":48,"u":5,"r":31.9},{"v":50,"u":5,"r":32.8},{"v":52,"u":5,"r":33.8},{"v":54,"u":5,"r":34.7},{"v":56,"u":5,"r":35.6},{"v":58,"u":5,"r":36.6},{"v":60,"u":5,"r":37.5},
{"v":0,"u":7.5,"r":7.3},{"v":2,"u":7.5,"r":9.4},{"v":4,"u":7.5,"r":10.8},{"v":6,"u":7.5,"r":11.8},{"v":8,"u":7.5,"r":12.7},{"v":10,"u":7.5,"r":13.8},{"v":12,"u":7.5,"r":14.7},{"v":14,"u":7.5,"r":15.7},{"v":16,"u":7.5,"r":16.7},{"v":18,"u":7.5,"r":17.6},{"v":20,"u":7.5,"r":18.5},{"v":22,"u":7.5,"r":19.5},{"v":24,"u":7.5,"r":20.4},{"v":26,"u":7.5,"r":21.4},{"v":28,"u":7.5,"r":22.4},{"v":30,"u":7.5,"r":23.3},{"v":32,"u":7.5,"r":24.2},{"v":34,"u":7.5,"r":25.2},{"v":36,"u":7.5,"r":26.1},{"v":38,"u":7.5,"r":27.0},{"v":40,"u":7.5,"r":28.0},{"v":42,"u":7.5,"r":28.9},{"v":44,"u":7.5,"r":29.8},{"v":46,"u":7.5,"r":30.8},{"v":48,"u":7.5,"r":31.7},{"v":50,"u":7.5,"r":32.6},{"v":52,"u":7.5,"r":33.6},{"v":54,"u":7.5,"r":34.6},{"v":56,"u":7.5,"r":35.5},{"v":58,"u":7.5,"r":36.5},{"v":60,"u":7.5,"r":37.4},
{"v":0,"u":10,"r":6.2},{"v":2,"u":10,"r":8.8},{"v":4,"u":10,"r":10.5},{"v":6,"u":10,"r":11.5},{"v":8,"u":10,"r":12.5},{"v":10,"u":10,"r":13.6},{"v":12,"u":10,"r":14.5},{"v":14,"u":10,"r":15.5},{"v":16,"u":10,"r":16.6},{"v":18,"u":10,"r":17.5},{"v":20,"u":10,"r":18.4},{"v":22,"u":10,"r":19.4},{"v":24,"u":10,"r":20.3},{"v":26,"u":10,"r":21.2},{"v":28,"u":10,"r":22.3},{"v":30,"u":10,"r":23.2},{"v":32,"u":10,"r":24.1},{"v":34,"u":10,"r":25.1},{"v":36,"u":10,"r":26.0},{"v":38,"u":10,"r":26.9},{"v":40,"u":10,"r":27.9},{"v":42,"u":10,"r":28.8},{"v":44,"u":10,"r":29.7},{"v":46,"u":10,"r":30.7},{"v":48,"u":10,"r":31.6},{"v":50,"u":10,"r":32.6},{"v":52,"u":10,"r":33.6},{"v":54,"u":10,"r":34.5},{"v":56,"u":10,"r":35.4},{"v":58,"u":10,"r":36.4},{"v":60,"u":10,"r":37.3},
{"v":0,"u":12.5,"r":5.2},{"v":2,"u":12.5,"r":8.2},{"v":4,"u":12.5,"r":10.2},{"v":6,"u":12.5,"r":11.3},{"v":8,"u":12.5,"r":12.3},{"v":10,"u":12.5,"r":13.4},{"v":12,"u":12.5,"r":14.4},{"v":14,"u":12.5,"r":15.3},{"v":16,"u":12.5,"r":16.4},{"v":18,"u":12.5,"r":17.3},{"v":20,"u":12.5,"r":18.3},{"v":22,"u":12.5,"r":19.3},{"v":24,"u":12.5,"r":20.2},{"v":26,"u":12.5,"r":21.1},{"v":28,"u":12.5,"r":22.2},{"v":30,"u":12.5,"r":23.1},{"v":32,"u":12.5,"r":24.0},{"v":34,"u":12.5,"r":25.0},{"v":36,"u":12.5,"r":25.9},{"v":38,"u":12.5,"r":26.8},{"v":40,"u":12.5,"r":27.8},{"v":42,"u":12.5,"r":28.7},{"v":44,"u":12.5,"r":29.6},{"v":46,"u":12.5,"r":30.6},{"v":48,"u":12.5,"r":31.6},{"v":50,"u":12.5,"r":32.5},{"v":52,"u":12.5,"r":33.5},{"v":54,"u":12.5,"r":34.4},{"v":56,"u":12.5,"r":35.3},{"v":58,"u":12.5,"r":36.3},{"v":60,"u":12.5,"r":37.3},
{"v":0,"u":15,"r":4.4},{"v":2,"u":15,"r":7.6},{"v":4,"u":15,"r":10.0},{"v":6,"u":15,"r":11.1},{"v":8,"u":15,"r":12.1},{"v":10,"u":15,"r":13.3},{"v":12,"u":15,"r":14.2},{"v":14,"u":15,"r":15.2},{"v":16,"u":15,"r":16.2},{"v":18,"u":15,"r":17.2},{"v":20,"u":15,"r":18.2},{"v":22,"u":15,"r":19.2},{"v":24,"u":15,"r":20.1},{"v":26,"u":15,"r":21.0},{"v":28,"u":15,"r":22.1},{"v":30,"u":15,"r":23.0},{"v":32,"u":15,"r":24.0},{"v":34,"u":15,"r":24.9},{"v":36,"u":15,"r":25.9},{"v":38,"u":15,"r":26.8},{"v":40,"u":15,"r":27.8},{"v":42,"u":15,"r":28.7},{"v":44,"u":15,"r":29.6},{"v":46,"u":15,"r":30.6},{"v":48,"u":15,"r":31.5},{"v":50,"u":15,"r":32.5},{"v":52,"u":15,"r":33.4},{"v":54,"u":15,"r":34.4},{"v":56,"u":15,"r":35.3},{"v":58,"u":15,"r":36.3},{"v":60,"u":15,"r":37.2},
{"v":0,"u":17.5,"r":3.7},{"v":2,"u":17.5,"r":7.0},{"v":4,"u":17.5,"r":9.9},{"v":6,"u":17.5,"r":11.0},{"v":8,"u":17.5,"r":12.0},{"v":10,"u":17.5,"r":13.2},{"v":12,"u":17.5,"r":14.1},{"v":14,"u":17.5,"r":15.1},{"v":16,"u":17.5,"r":16.1},{"v":18,"u":17.5,"r":17.1},{"v":20,"u":17.5,"r":18.1},{"v":22,"u":17.5,"r":19.1},{"v":24,"u":17.5,"r":20.0},{"v":26,"u":17.5,"r":21.0},{"v":28,"u":17.5,"r":22.0},{"v":30,"u":17.5,"r":22.9},{"v":32,"u":17.5,"r":23.9},{"v":34,"u":17.5,"r":24.9},{"v":36,"u":17.5,"r":25.8},{"v":38,"u":17.5,"r":26.7},{"v":40,"u":17.5,"r":27.7},{"v":42,"u":17.5,"r":28.6},{"v":44,"u":17.5,"r":29.6},{"v":46,"u":17.5,"r":30.5},{"v":48,"u":17.5,"r":31.5},{"v":50,"u":17.5,"r":32.4},{"v":52,"u":17.5,"r":33.4},{"v":54,"u":17.5,"r":34.3},{"v":56,"u":17.5,"r":35.3},{"v":58,"u":17.5,"r":36.2},{"v":60,"u":17.5,"r":37.2}
],
"dLines":[
{"k":-1,"u":7.4,"v":0.3},{"k":-1,"u":9.5,"v":1.2},{"k":-1,"u":12.5,"v":2.0},{"k":-1,"u":16,"v":2.6},{"k":-1,"u":19.8,"v":3.06},
{"k":0,"u":0,"v":-2.87},{"k":0,"u":5.35,"v":2.09},{"k":0,"u":7,"v":2.82},{"k":0,"u":9.5,"v":3.73},{"k":0,"u":12.5,"v":4.64},{"k":0,"u":16,"v":5.29},{"k":0,"u":19.8,"v":5.73},
{"k":1,"u":0,"v":1.41},{"k":1,"u":5.35,"v":6.37},{"k":1,"u":7,"v":6.95},{"k":1,"u":9.5,"v":7.68},{"k":1,"u":12.5,"v":8.4},{"k":1,"u":16,"v":8.92},{"k":1,"u":19.8,"v":9.27},
{"k":2,"u":0,"v":5.68},{"k":2,"u":5.35,"v":10.64},{"k":2,"u":7,"v":11.07},{"k":2,"u":9.5,"v":11.62},{"k":2,"u":12.5,"v":12.16},{"k":2,"u":16,"v":12.55},{"k":2,"u":19.8,"v":12.81},
{"k":3,"u":0,"v":9.91},{"k":3,"u":5.35,"v":14.87},{"k":3,"u":7,"v":15.27},{"k":3,"u":9.5,"v":15.76},{"k":3,"u":12.5,"v":16.26},{"k":3,"u":16,"v":16.61},{"k":3,"u":19.8,"v":16.85},
{"k":4,"u":0,"v":14.28},{"k":4,"u":5.35,"v":19.24},{"k":4,"u":7,"v":19.54},{"k":4,"u":9.5,"v":19.92},{"k":4,"u":12.5,"v":20.3},{"k":4,"u":16,"v":20.58},{"k":4,"u":19.8,"v":20.76},
{"k":5,"u":0,"v":18.56},{"k":5,"u":5.35,"v":23.52},{"k":5,"u":7,"v":23.8},{"k":5,"u":9.5,"v":24.14},{"k":5,"u":12.5,"v":24.49},{"k":5,"u":16,"v":24.73},{"k":5,"u":19.8,"v":24.9},
{"k":6,"u":0,"v":22.79},{"k":6,"u":5.35,"v":27.75},{"k":6,"u":7,"v":28.01},{"k":6,"u":9.5,"v":28.33},{"k":6,"u":12.5,"v":28.65},{"k":6,"u":16,"v":28.89},{"k":6,"u":19.8,"v":29.04},
{"k":7,"u":0,"v":27.16},{"k":7,"u":5.35,"v":32.12},{"k":7,"u":7,"v":32.33},{"k":7,"u":9.5,"v":32.59},{"k":7,"u":12.5,"v":32.86},{"k":7,"u":16,"v":33.04},{"k":7,"u":19.8,"v":33.17},
{"k":8,"u":0,"v":31.39},{"k":8,"u":5.35,"v":36.35},{"k":8,"u":7,"v":36.57},{"k":8,"u":9.5,"v":36.85},{"k":8,"u":12.5,"v":37.12},{"k":8,"u":16,"v":37.32},{"k":8,"u":19.8,"v":37.45},
{"k":9,"u":0,"v":35.66},{"k":9,"u":5.35,"v":40.62},{"k":9,"u":7,"v":40.83},{"k":9,"u":9.5,"v":41.1},{"k":9,"u":12.5,"v":41.36},{"k":9,"u":16,"v":41.55},{"k":9,"u":19.8,"v":41.68},
{"k":10,"u":0,"v":39.94},{"k":10,"u":5.35,"v":44.9},{"k":10,"u":7,"v":45.1},{"k":10,"u":9.5,"v":45.35},{"k":10,"u":12.5,"v":45.6},{"k":10,"u":16,"v":45.78},{"k":10,"u":19.8,"v":45.9},
{"k":11,"u":0,"v":44.17},{"k":11,"u":5.35,"v":49.13},{"k":11,"u":7,"v":49.31},{"k":11,"u":9.5,"v":49.54},{"k":11,"u":12.5,"v":49.77},{"k":11,"u":16,"v":49.94},{"k":11,"u":19.8,"v":50.05},
{"k":12,"u":0,"v":48.54},{"k":12,"u":5.35,"v":53.5},{"k":12,"u":7,"v":53.66},{"k":12,"u":9.5,"v":53.87},{"k":12,"u":12.5,"v":54.07},{"k":12,"u":16,"v":54.22},{"k":12,"u":19.8,"v":54.32},
{"k":13,"u":0,"v":52.9},{"k":13,"u":5.35,"v":57.86},{"k":13,"u":7,"v":58.01},{"k":13,"u":9.5,"v":58.19},{"k":13,"u":12.5,"v":58.38},{"k":13,"u":16,"v":58.51},{"k":13,"u":19.8,"v":58.6},
{"k":14,"u":0,"v":57.24},{"k":14,"u":5.35,"v":62.2}
],
"topEdge":[{"u":19.75}]
},
"concat":[
{"width":443,"height":292,
"title":{"text":"( ⊿u = 0.3, S₀ = 0.1, Λ = 0.01, N=10⁶, Vₚₕᵢ₄)","dx":-11},
"resolve":{"axis":{"x":"independent","y":"independent"}},
"layer":[
{"data":{"name":"aCells"},"mark":{"type":"rect","clip":true},
"encoding":{
"x":{"field":"v","type":"quantitative","bin":{"binned":true,"step":2},"scale":{"domain":[0.4,60],"nice":false,"zero":false},"axis":null},
"y":{"field":"u","type":"quantitative","bin":{"binned":true,"step":2.5},"scale":{"domain":[0,19.8],"nice":false,"zero":false},"axis":null},
"color":{"field":"r","type":"quantitative","scale":{"domain":[0,12,21,30.5,40],"range":["#0000ff","#00ffff","#00e600","#ffff00","#ff0000"],"interpolate":"rgb","clamp":true},
"legend":{"orient":"none","legendX":-81.3,"legendY":-4.3,"direction":"vertical","gradientLength":97,"gradientThickness":26,"title":null,"values":[0,10,20,30,40],"labelExpr":"datum.value == 0 ? '0.000' : format(datum.value, '.2f')","labelOffset":3,"labelOverlap":false,"padding":0,"gradientStrokeWidth":0}}}},
{"data":{"name":"aLines"},"mark":{"type":"line","clip":true,"color":"#1a1a1a","strokeWidth":0.8},
"encoding":{
"x":{"field":"v","type":"quantitative","axis":{"title":"v","values":[2,4,6,8,10,12,14,16,18,20,22,24,26,28,30,32,34,36,38,40,42,44,46,48,50,52,54,56,58,60],"labelExpr":"datum.value % 10 == 0 && datum.value < 60 ? datum.value + '' : ''","tickSize":4,"labelPadding":2,"titlePadding":0,"labelOverlap":false}},
"y":{"field":"u","type":"quantitative","axis":{"title":null,"values":[0.5,1,1.5,2,2.5,3,3.5,4,4.5,5,5.5,6,6.5,7,7.5,8,8.5,9,9.5,10,10.5,11,11.5,12,12.5,13,13.5,14,14.5,15,15.5,16,16.5,17,17.5,18,18.5,19,19.5],"labelExpr":"datum.value == 10 ? 'u 10' : (datum.value == 5 || datum.value == 15) ? datum.value + '' : ''","tickSize":4,"labelPadding":2,"labelOverlap":false}},
"detail":{"field":"k","type":"nominal"},"order":{"field":"u","type":"quantitative"}}},
{"data":{"name":"aWhite"},"mark":{"type":"line","clip":true,"color":"white","strokeWidth":1.5},
"encoding":{"x":{"field":"v","type":"quantitative","axis":null},"y":{"field":"u","type":"quantitative","axis":null},"order":{"field":"o","type":"quantitative"}}},
{"data":{"name":"topEdge"},"mark":{"type":"rule","color":"black","strokeWidth":3},"encoding":{"y":{"field":"u","type":"quantitative","axis":null}}}
]},
{"width":440,"height":292,
"title":{"text":"( ⊿u = 0.3, S₀ = 0.1, Λ = 0.01, N=10⁴, Vₚₕᵢ₄)","dx":-4},
"resolve":{"axis":{"x":"independent","y":"independent"}},
"layer":[
{"data":{"name":"bCells"},"mark":{"type":"rect","clip":true},
"encoding":{
"x":{"field":"v","type":"quantitative","bin":{"binned":true,"step":2},"scale":{"domain":[0.3,61],"nice":false,"zero":false},"axis":null},
"y":{"field":"u","type":"quantitative","bin":{"binned":true,"step":2.5},"scale":{"domain":[0,19.8],"nice":false,"zero":false},"axis":null},
"color":{"field":"r","type":"quantitative","scale":{"domain":[0,12,21,30.5,40],"range":["#0000ff","#00ffff","#00e600","#ffff00","#ff0000"],"interpolate":"rgb","clamp":true},
"legend":{"orient":"none","legendX":-82.3,"legendY":-2.3,"direction":"vertical","gradientLength":95,"gradientThickness":22,"title":null,"values":[0,10,20,30,40],"labelExpr":"datum.value == 0 ? '0.000' : format(datum.value, '.2f')","labelOffset":3,"labelOverlap":false,"padding":0,"gradientStrokeWidth":0}}}},
{"data":{"name":"bLines"},"mark":{"type":"line","clip":true,"color":"#1a1a1a","strokeWidth":0.8},
"encoding":{
"x":{"field":"v","type":"quantitative","axis":{"title":"v","values":[2,4,6,8,10,12,14,16,18,20,22,24,26,28,30,32,34,36,38,40,42,44,46,48,50,52,54,56,58,60],"labelExpr":"datum.value % 10 == 0 && datum.value < 60 ? datum.value + '' : ''","tickSize":4,"labelPadding":2,"titlePadding":0,"labelOverlap":false}},
"y":{"field":"u","type":"quantitative","axis":{"title":null,"values":[0.5,1,1.5,2,2.5,3,3.5,4,4.5,5,5.5,6,6.5,7,7.5,8,8.5,9,9.5,10,10.5,11,11.5,12,12.5,13,13.5,14,14.5,15,15.5,16,16.5,17,17.5,18,18.5,19,19.5],"labelExpr":"datum.value == 10 ? 'u 10' : (datum.value == 5 || datum.value == 15) ? datum.value + '' : ''","tickSize":4,"labelPadding":2,"labelOverlap":false}},
"detail":{"field":"k","type":"nominal"},"order":{"field":"u","type":"quantitative"}}},
{"data":{"name":"bWhite"},"mark":{"type":"line","clip":true,"color":"white","strokeWidth":1.5},
"encoding":{"x":{"field":"v","type":"quantitative","axis":null},"y":{"field":"u","type":"quantitative","axis":null},"order":{"field":"o","type":"quantitative"}}},
{"data":{"name":"topEdge"},"mark":{"type":"rule","color":"black","strokeWidth":3},"encoding":{"y":{"field":"u","type":"quantitative","axis":null}}}
]},
{"width":443,"height":292,
"title":{"text":"( ⊿u = 0.3, S₀ = 0.1, Λ = 0.005, N=10⁸, Vₚₕᵢ₄)","dx":-14},
"resolve":{"axis":{"x":"independent","y":"independent"}},
"layer":[
{"data":{"name":"cCells"},"mark":{"type":"rect","clip":true},
"encoding":{
"x":{"field":"v","type":"quantitative","bin":{"binned":true,"step":2},"scale":{"domain":[0.4,60],"nice":false,"zero":false},"axis":null},
"y":{"field":"u","type":"quantitative","bin":{"binned":true,"step":2.5},"scale":{"domain":[0,19.8],"nice":false,"zero":false},"axis":null},
"color":{"field":"r","type":"quantitative","scale":{"domain":[0,12,21,30.5,40],"range":["#0000ff","#00ffff","#00e600","#ffff00","#ff0000"],"interpolate":"rgb","clamp":true},
"legend":{"orient":"none","legendX":-81.3,"legendY":-7.3,"direction":"vertical","gradientLength":95,"gradientThickness":26,"title":null,"values":[0,10,20,30,40],"labelExpr":"datum.value == 0 ? '0.000' : format(datum.value, '.2f')","labelOffset":3,"labelOverlap":false,"padding":0,"gradientStrokeWidth":0}}}},
{"data":{"name":"cLines"},"mark":{"type":"line","clip":true,"color":"#1a1a1a","strokeWidth":0.8},
"encoding":{
"x":{"field":"v","type":"quantitative","axis":{"title":"v","values":[2,4,6,8,10,12,14,16,18,20,22,24,26,28,30,32,34,36,38,40,42,44,46,48,50,52,54,56,58,60],"labelExpr":"datum.value % 10 == 0 && datum.value < 60 ? datum.value + '' : ''","tickSize":4,"labelPadding":2,"titlePadding":0,"labelOverlap":false}},
"y":{"field":"u","type":"quantitative","axis":{"title":null,"values":[0.5,1,1.5,2,2.5,3,3.5,4,4.5,5,5.5,6,6.5,7,7.5,8,8.5,9,9.5,10,10.5,11,11.5,12,12.5,13,13.5,14,14.5,15,15.5,16,16.5,17,17.5,18,18.5,19,19.5],"labelExpr":"datum.value == 10 ? 'u 10' : (datum.value == 5 || datum.value == 15) ? datum.value + '' : ''","tickSize":4,"labelPadding":2,"labelOverlap":false}},
"detail":{"field":"k","type":"nominal"},"order":{"field":"u","type":"quantitative"}}},
{"data":{"name":"cWhite"},"mark":{"type":"line","clip":true,"color":"white","strokeWidth":1.5},
"encoding":{"x":{"field":"v","type":"quantitative","axis":null},"y":{"field":"u","type":"quantitative","axis":null},"order":{"field":"o","type":"quantitative"}}},
{"data":{"name":"topEdge"},"mark":{"type":"rule","color":"black","strokeWidth":3},"encoding":{"y":{"field":"u","type":"quantitative","axis":null}}}
]},
{"width":440,"height":292,
"title":{"text":"( ⊿u = 0.3, S₀ = 0.1, Λ = 0.001, N=10⁸, Vₚₕᵢ₄)","dx":-5},
"resolve":{"axis":{"x":"independent","y":"independent"}},
"layer":[
{"data":{"name":"dCells"},"mark":{"type":"rect","clip":true},
"encoding":{
"x":{"field":"v","type":"quantitative","bin":{"binned":true,"step":2},"scale":{"domain":[0.3,61],"nice":false,"zero":false},"axis":null},
"y":{"field":"u","type":"quantitative","bin":{"binned":true,"step":2.5},"scale":{"domain":[0,19.8],"nice":false,"zero":false},"axis":null},
"color":{"field":"r","type":"quantitative","scale":{"domain":[0,12,21,30.5,40],"range":["#0000ff","#00ffff","#00e600","#ffff00","#ff0000"],"interpolate":"rgb","clamp":true},
"legend":{"orient":"none","legendX":-78,"legendY":-5.3,"direction":"vertical","gradientLength":95,"gradientThickness":22,"title":null,"values":[0,10,20,30,40],"labelExpr":"datum.value == 0 ? '0.000' : format(datum.value, '.2f')","labelOffset":3,"labelOverlap":false,"padding":0,"gradientStrokeWidth":0}}}},
{"data":{"name":"dLines"},"mark":{"type":"line","clip":true,"color":"#1a1a1a","strokeWidth":0.8},
"encoding":{
"x":{"field":"v","type":"quantitative","axis":{"title":"v","values":[2,4,6,8,10,12,14,16,18,20,22,24,26,28,30,32,34,36,38,40,42,44,46,48,50,52,54,56,58,60],"labelExpr":"datum.value % 10 == 0 && datum.value < 60 ? datum.value + '' : ''","tickSize":4,"labelPadding":2,"titlePadding":0,"labelOverlap":false}},
"y":{"field":"u","type":"quantitative","axis":{"title":null,"values":[0.5,1,1.5,2,2.5,3,3.5,4,4.5,5,5.5,6,6.5,7,7.5,8,8.5,9,9.5,10,10.5,11,11.5,12,12.5,13,13.5,14,14.5,15,15.5,16,16.5,17,17.5,18,18.5,19,19.5],"labelExpr":"datum.value == 10 ? 'u 10' : (datum.value == 5 || datum.value == 15) ? datum.value + '' : ''","tickSize":4,"labelPadding":2,"labelOverlap":false}},
"detail":{"field":"k","type":"nominal"},"order":{"field":"u","type":"quantitative"}}},
{"data":{"name":"topEdge"},"mark":{"type":"rule","color":"black","strokeWidth":3},"encoding":{"y":{"field":"u","type":"quantitative","axis":null}}}
]}
],
"columns":2,
"spacing":{"row":62.8,"column":104.3},
"bounds":"flush",
"resolve":{"scale":{"color":"independent","x":"independent","y":"independent"},"legend":{"color":"independent"},"axis":{"x":"independent","y":"independent"}}
}
